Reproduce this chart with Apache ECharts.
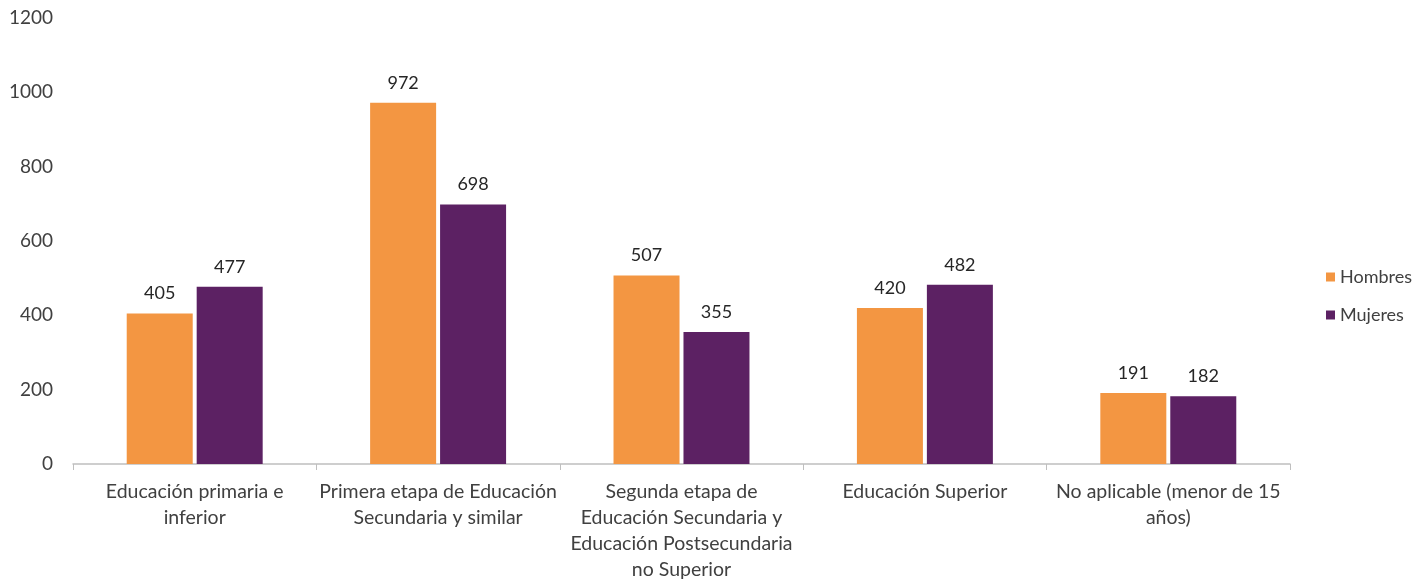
<!DOCTYPE html>
<html><head><meta charset="utf-8">
<script src="https://cdn.jsdelivr.net/npm/echarts@6/dist/echarts.min.js"></script>
<style>html,body{margin:0;padding:0;background:#fff}#c{width:1421px;height:579px}</style>
</head><body><div id="c"></div>
<script>
const categories = [
  "Educación primaria e\ninferior",
  "Primera etapa de Educación\nSecundaria y similar",
  "Segunda etapa de\nEducación Secundaria y\nEducación Postsecundaria\nno Superior",
  "Educación Superior",
  "No aplicable (menor de 15\naños)"
];
const hombres = [405, 972, 507, 420, 191];
const mujeres = [477, 698, 355, 482, 182];
const seriesNames = ["Hombres", "Mujeres"];

const font = "Lato";
const txt = "#404040";
const chart = echarts.init(document.getElementById('c'));
chart.setOption({
  animation: false,
  textStyle: { fontFamily: font },
  grid: { left: 73, right: 131, top: 18, bottom: 115, outerBoundsMode: 'none', containLabel: false },
  legend: {
    orient: 'vertical', left: 1321, top: 263, itemWidth: 9, itemHeight: 9, itemGap: 20,
    icon: 'rect',
    textStyle: { fontFamily: font, fontSize: 18, color: txt },
    data: seriesNames
  },
  xAxis: {
    type: 'category', data: categories,
    axisLine: { lineStyle: { color: '#bfbfbf', width: 1.5 } },
    axisTick: { show: true, length: 6, lineStyle: { color: '#bfbfbf' } },
    axisLabel: { fontFamily: font, fontSize: 19.5, color: txt, lineHeight: 26, margin: 15, interval: 0 }
  },
  yAxis: {
    type: 'value', min: 0, max: 1200, interval: 200,
    splitLine: { show: false }, axisLine: { show: false }, axisTick: { show: false },
    axisLabel: { fontFamily: font, fontSize: 19, color: txt, margin: 20, formatter: v => String(v) }
  },
  series: [
    { name: seriesNames[0], type: 'bar', data: hombres, barWidth: 66, barGap: '6%',
      itemStyle: { color: '#F39642' },
      label: { show: true, position: 'top', distance: 11, fontFamily: font, fontSize: 18, color: '#262626' } },
    { name: seriesNames[1], type: 'bar', data: mujeres, barWidth: 66,
      itemStyle: { color: '#5C2163' },
      label: { show: true, position: 'top', distance: 11, fontFamily: font, fontSize: 18, color: '#262626' } }
  ]
});
</script></body></html>
